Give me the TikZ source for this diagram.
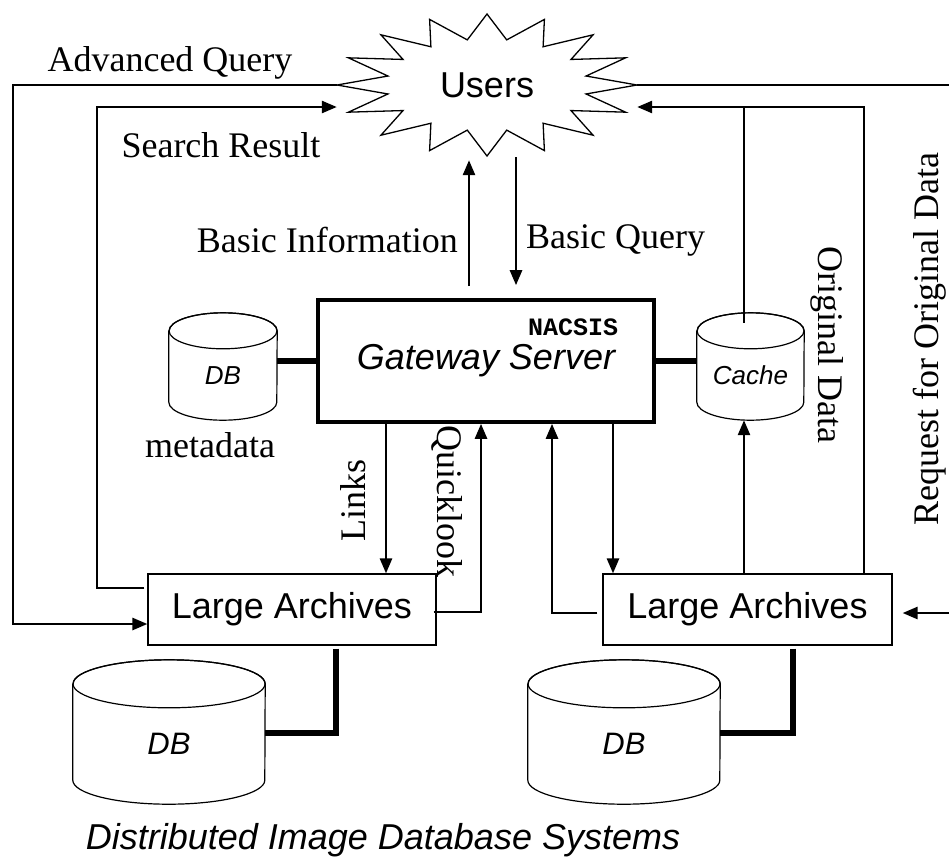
\documentclass[tikz,border=0pt]{standalone}
\usepackage{fontspec}
\setmainfont{Liberation Serif}
\setsansfont{Liberation Sans}
\setmonofont{Liberation Mono}
\usetikzlibrary{arrows.meta}

\tikzset{
  big/.style={inner sep=0pt,font=\fontsize{36}{40}\selectfont},
  bigsans/.style={inner sep=0pt,font=\sffamily\fontsize{36}{40}\selectfont},
  link/.style={line width=2.6pt,-{Triangle[length=15pt,width=12pt]}},
  wire/.style={line width=2.6pt},
  heavy/.style={line width=5.5pt},
  archive/.style={draw,line width=1.2pt,minimum width=288pt,minimum height=71pt,bigsans},
  drum/.style={inner sep=0pt,font=\sffamily\itshape\fontsize{26}{30}\selectfont},
  burst/.style={line width=1.3pt,line join=miter},
}

% cylinder round a node: name, half width, cap radius
\newcommand{\drawdrum}[3]{%
  \draw[line width=1.2pt] (#1.north west) -- ([yshift=#3]#1.south west)
    arc[start angle=180,end angle=360,x radius=#2,y radius=#3]
    -- (#1.north east) arc[start angle=0,end angle=180,x radius=#2,y radius=#3];
  \draw[line width=1.2pt] (#1.north) ellipse[x radius=#2,y radius=#3];
}

\begin{document}
\begin{tikzpicture}[x=1pt,y=-1pt]
\useasboundingbox (0,0) rectangle (949,857);
\clip (0,0) rectangle (949,857);

% users
\node[bigsans,minimum width=300pt,minimum height=142pt] (users) at (487,85) {Users};
\begin{scope}[shift={(users.center)}]
\draw[burst] (0:150pt and 71pt)
  \foreach \i [evaluate=\i as \rx using {mod(\i,2)==0?150:101},
               evaluate=\i as \ry using {mod(\i,2)==0?71:46},
               evaluate=\i as \ang using {\i*11.25}] in {1,...,31} {
    -- (\ang:\rx pt and \ry pt) } -- cycle;
\end{scope}

% server and databases
\node[draw,line width=3.6pt,minimum width=336pt,minimum height=122pt,inner sep=0pt,
  font=\sffamily\itshape\fontsize{36}{40}\selectfont] (gate) at (486,361) {Gateway Server};
\node[inner sep=0pt,font=\ttfamily\bfseries\fontsize{25}{28}\selectfont] (nacsis) at (573,327) {NACSIS};

\node[drum,minimum width=108pt,minimum height=89pt] (metadb) at (223,375.5) {DB};
\drawdrum{metadb}{54pt}{18pt}
\node[drum,minimum width=107pt,minimum height=89pt] (cache) at (750.5,375.5) {Cache};
\drawdrum{cache}{53.5pt}{18pt}

\node[archive] (larch) at (292,609.5) {Large Archives};
\node[archive,minimum width=289pt] (rarch) at (747.5,609.5) {Large Archives};

\node[drum,font=\sffamily\itshape\fontsize{31}{34}\selectfont,minimum width=192pt,minimum height=120pt] (ldb) at (169,744) {DB};
\drawdrum{ldb}{96pt}{24pt}
\node[drum,font=\sffamily\itshape\fontsize{31}{34}\selectfont,minimum width=192pt,minimum height=120pt] (rdb) at (624,744) {DB};
\drawdrum{rdb}{96pt}{24pt}

% heavy links
\draw[heavy] (metadb.east |- gate.west) -- ([xshift=4pt]gate.west);
\draw[heavy] ([xshift=-4pt]gate.east) -- (gate.east -| cache.west);
\draw[heavy] ([xshift=44pt,yshift=-3pt]larch.south) |- ([yshift=11pt]ldb.east);
\draw[heavy] ([xshift=45.5pt,yshift=-3pt]rarch.south) |- ([yshift=11pt]rdb.east);

% queries and results
\draw[link] (users.west) -- (13,85) |- ([yshift=-14.5pt]larch.west);
\draw[link] ([xshift=-3pt,yshift=21.5pt]larch.west) -| (97,107) -- ([yshift=-22pt]users.west);
\draw[link] ([xshift=-17pt,yshift=12pt]gate.north) -- ([xshift=-18pt,yshift=-4pt]users.south);
\draw[link] ([xshift=29pt,yshift=-1pt]users.south) -- ([xshift=30pt,yshift=13pt]gate.north);
\draw[link] ([xshift=-100pt]gate.south) -- ([xshift=94pt]larch.north);
\draw[link] ([xshift=-3pt,yshift=-2.5pt]larch.east) -| ([xshift=-5pt]gate.south);
\draw[link] ([xshift=127pt]gate.south) -- ([xshift=-134.5pt]rarch.north);
\draw[link] ([xshift=-5pt,yshift=-3.5pt]rarch.west) -| ([xshift=66pt]gate.south);
\draw[link] ([xshift=-3.5pt]rarch.north) -- ([xshift=-6.5pt]cache.south);
\coordinate (join) at (744,107);
\draw[wire] ([xshift=-6.5pt,yshift=8pt]cache.north) -- (join);
\draw[link] ([xshift=116.5pt]rarch.north) -- (864,107) -- ([yshift=-22pt]users.east);
\draw[link] (users.east) -- (955,85) -- (955,613) -- ([xshift=10pt,yshift=-3.5pt]rarch.east);

% labels
\node[big] (advq) at (170,63) {Advanced Query};
\node[big] (srch) at (221,145) {Search Result};
\node[big,anchor=east] (binfo) at (458,240) {Basic Information};
\node[big,anchor=west] (bquery) at (526,240) {Basic Query};
\node[big] (meta) at (210,445) {metadata};
\node[big,rotate=90] (links) at (353,500) {Links};
\node[big,rotate=-90] (qlook) at (447,501) {Quicklook};
\node[big,rotate=-90] (origd) at (827,345) {Original Data};
\node[big,rotate=90] (reqd) at (930,339) {Request for Original Data};
\node[inner sep=0pt,font=\sffamily\itshape\fontsize{36}{40}\selectfont] (dist) at (383,840) {Distributed Image Database Systems};
\end{tikzpicture}
\end{document}
